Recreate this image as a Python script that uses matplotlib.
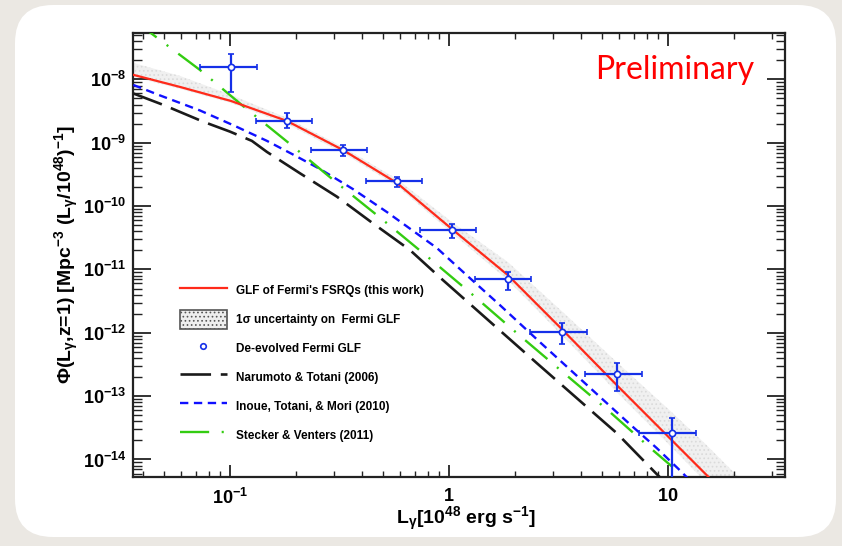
import matplotlib
matplotlib.use('Agg')
import matplotlib.pyplot as plt
import numpy as np
from matplotlib.patches import FancyBboxPatch, Patch
from matplotlib.lines import Line2D
from matplotlib.transforms import IdentityTransform
from matplotlib.ticker import LogLocator, NullFormatter, FixedLocator, FixedFormatter

plt.rcParams['font.family'] = ['Liberation Sans', 'DejaVu Sans']
plt.rcParams['mathtext.fontset'] = 'custom'
plt.rcParams['mathtext.rm'] = 'Liberation Sans:bold'
plt.rcParams['mathtext.it'] = 'Liberation Sans:italic:bold'
plt.rcParams['mathtext.bf'] = 'Liberation Sans:bold'
plt.rcParams['mathtext.sf'] = 'Liberation Sans:bold'
plt.rcParams['mathtext.default'] = 'rm'
plt.rcParams['lines.scale_dashes'] = False
plt.rcParams['hatch.color'] = '#dadada'
plt.rcParams['hatch.linewidth'] = 0.7

# ---------------- data ----------------
# de-evolved Fermi GLF points
pt_L = [0.101, 0.183, 0.327, 0.581, 1.034, 1.854, 3.30, 5.87, 10.46]
pt_L_lo = [0.0729, 0.1315, 0.2336, 0.417, 0.737, 1.314, 2.34, 4.18, 7.40]
pt_L_hi = [0.1324, 0.236, 0.4236, 0.750, 1.326, 2.36, 4.26, 7.59, 13.5]
pt_phi = [1.576e-8, 2.19e-9, 7.61e-10, 2.47e-10, 4.23e-11, 6.98e-12, 1.04e-12, 2.20e-13, 2.63e-14]
pt_phi_lo = [6.4e-9, 1.69e-9, 6.19e-10, 2.03e-10, 3.16e-11, 4.72e-12, 6.64e-13, 1.21e-13, 2.0e-15]
pt_phi_hi = [2.5e-8, 2.92e-9, 9.2e-10, 2.91e-10, 5.31e-11, 9.2e-12, 1.41e-12, 3.36e-13, 4.54e-14]

# GLF of Fermi's FSRQs (this work) and its 1-sigma band
glf_L = [0.0362, 0.0591, 0.101, 0.182, 0.328, 0.579, 1.032, 1.859, 3.316, 5.85, 10.42, 15.22, 22.47]
glf_phi = [1.18e-8, 7.61e-9, 4.57e-9, 2.21e-9, 7.70e-10, 2.32e-10, 4.35e-11, 8.15e-12,
           1.10e-12, 1.49e-13, 2.02e-14, 5.45e-15, 1.4e-15]
band_hi = [1.82e-8, 1.136e-8, 5.69e-9, 2.47e-9, 8.58e-10, 2.68e-10, 5.61e-11, 1.31e-11,
           2.12e-12, 3.44e-13, 5.58e-14, 1.62e-14, 4.2e-15]
band_lo = [1.095e-8, 7.08e-9, 4.25e-9, 1.98e-9, 6.90e-10, 2.08e-10, 3.76e-11, 6.79e-12,
           8.85e-13, 1.15e-13, 1.56e-14, 4.07e-15, 1.1e-15]

# Narumoto & Totani (2006)
nt_L = [0.0362, 0.0496, 0.0755, 0.1, 0.126, 0.1476, 0.2088, 0.308, 0.4498, 0.6637, 0.939, 2.522, 5.85, 9.0, 12.6]
nt_phi = [6.0e-9, 3.96e-9, 2.15e-9, 1.50e-9, 1.07e-9, 7.16e-10, 3.30e-10, 1.41e-10, 5.35e-11,
          2.03e-11, 6.80e-12, 3.32e-13, 2.60e-14, 5.65e-15, 1.97e-15]

# Inoue, Totani, & Mori (2010)
itm_L = [0.0362, 0.0479, 0.0729, 0.1054, 0.1476, 0.194, 0.2576, 0.3644, 0.5209, 0.8815,
         1.247, 1.71, 2.604, 3.684, 5.266, 6.708, 8.91, 11.34, 12.6]
itm_phi = [8.18e-9, 5.59e-9, 3.24e-9, 1.84e-9, 1.07e-9, 6.53e-10, 3.86e-10, 1.86e-10, 8.07e-11,
           2.18e-11, 7.31e-12, 2.74e-12, 7.13e-13, 2.39e-13, 7.75e-14, 3.61e-14, 1.51e-14, 6.78e-15, 4.7e-15]

# Stecker & Venters (2011)
sv_L = [0.0362, 0.0729, 0.1147, 0.188, 0.308, 0.494, 0.802, 1.274, 2.044, 3.316, 5.32, 8.45, 10.54]
sv_phi = [8.7e-8, 1.413e-8, 3.81e-9, 9.57e-10, 2.32e-10, 6.25e-11, 1.57e-11, 4.08e-12,
          9.89e-13, 2.39e-13, 6.01e-14, 1.45e-14, 7.55e-15]

x_ticks = [0.1, 1, 10]
x_ticklabels = ['$10^{-1}$', '$1$', '$10$']
y_ticks = [1e-14, 1e-13, 1e-12, 1e-11, 1e-10, 1e-9, 1e-8]
y_ticklabels = ['$10^{-14}$', '$10^{-13}$', '$10^{-12}$', '$10^{-11}$', '$10^{-10}$', '$10^{-9}$', '$10^{-8}$']

labels = ["GLF of Fermi's FSRQs (this work)", "1\u03c3 uncertainty on  Fermi GLF",
          "De-evolved Fermi GLF", "Narumoto & Totani (2006)",
          "Inoue, Totani, & Mori (2010)", "Stecker & Venters (2011)"]

# ---------------- figure ----------------
W, H = 842, 546
fig = plt.figure(figsize=(W / 100, H / 100), dpi=100)
fig.patch.set_facecolor('#ebe8e3')
r = 38
card = FancyBboxPatch((15 + r, 9 + r), 821 - 2 * r, 532 - 2 * r,
                      boxstyle='round,pad=%d' % r, transform=IdentityTransform(),
                      facecolor='white', edgecolor='none', zorder=-5)
fig.add_artist(card)

ax = fig.add_axes([133.3 / W, (H - 476.7) / H, (785 - 133.3) / W, (476.7 - 33) / H])
ax.set_xscale('log')
ax.set_yscale('log')
ax.set_xlim(0.0362, 34.3)
ax.set_ylim(5.35e-15, 5.4e-8)

band = ax.fill_between(glf_L, band_lo, band_hi, facecolor='#f0f0f0', edgecolor='#dadada',
                       linewidth=0, hatch='....', zorder=1)

l_nt, = ax.plot(nt_L, nt_phi, color='#1a1a1a', lw=1.9, dashes=(22, 7), dash_capstyle='butt', zorder=3)
l_itm, = ax.plot(itm_L, itm_phi, color='#1010ff', lw=1.7, dashes=(6, 4), dash_capstyle='butt', zorder=3)
l_sv, = ax.plot(sv_L, sv_phi, color='#33cc11', lw=1.7, dashes=(21, 9, 1.5, 9), dash_capstyle='butt', zorder=3)
l_glf, = ax.plot(glf_L, glf_phi, color='#ff2a1a', lw=1.6, zorder=4)

L = np.array(pt_L)
P = np.array(pt_phi)
xerr = [L - np.array(pt_L_lo), np.array(pt_L_hi) - L]
yerr = [P - np.array(pt_phi_lo), np.array(pt_phi_hi) - P]
ax.errorbar(L, P, xerr=xerr, yerr=yerr, fmt='o', color='#1530e8', ms=4.5, mfc='white',
            mec='#1530e8', mew=1.2, elinewidth=1.6, capsize=2.2, capthick=1.6, zorder=5)

# ticks
ax.xaxis.set_major_locator(FixedLocator(x_ticks))
ax.xaxis.set_major_formatter(FixedFormatter(x_ticklabels))
ax.xaxis.set_minor_locator(LogLocator(base=10, subs=np.arange(2, 10), numticks=100))
ax.xaxis.set_minor_formatter(NullFormatter())
ax.yaxis.set_major_locator(FixedLocator(y_ticks))
ax.yaxis.set_major_formatter(FixedFormatter(y_ticklabels))
ax.yaxis.set_minor_locator(LogLocator(base=10, subs=np.arange(2, 10), numticks=100))
ax.yaxis.set_minor_formatter(NullFormatter())
ax.tick_params(which='both', direction='in', top=True, right=True, color='#222222')
ax.tick_params(axis='y', which='major', length=13, width=1.3, pad=5, labelsize=13)
ax.tick_params(axis='y', which='minor', length=6.5, width=1.0)
ax.tick_params(axis='x', which='major', length=9, width=1.3, pad=8, labelsize=13)
ax.tick_params(axis='x', which='minor', length=4, width=1.0)
for s in ax.spines.values():
    s.set_linewidth(1.6)
    s.set_color('#222222')

ax.set_xlabel('L$_\\gamma$[10$^{48}$ erg s$^{-1}$]', fontsize=14, fontweight='bold', va='center')
ax.xaxis.set_label_coords(0.5105, -0.0953)
ax.set_ylabel('$\\Phi$(L$_\\gamma$,z=1) [Mpc$^{-3}$ (L$_\\gamma$/10$^{48}$)$^{-1}$]', fontsize=14,
              fontweight='bold', va='center')
ax.yaxis.set_label_coords(-0.1017, 0.4997)

ax.text(0.7085, 0.8957, 'Preliminary', transform=ax.transAxes, color='#ff0000',
        fontsize=23, family=['Lato', 'DejaVu Sans'], ha='left', va='baseline')

# legend
h_band = Patch(facecolor='#eeeeee', edgecolor='#555555', linewidth=1.2, hatch='....')
h_pts = Line2D([], [], ls='none', marker='o', ms=4, mfc='white', mec='#1530e8', mew=1.2)
leg = ax.legend([l_glf, h_band, h_pts, l_nt, l_itm, l_sv], labels,
                loc='upper left', bbox_to_anchor=(0.0717, 0.44), frameon=False,
                prop={'weight': 'bold', 'size': 8.5}, borderpad=0, borderaxespad=0,
                handlelength=3.95, handleheight=2.0, handletextpad=0.8, labelspacing=0.9, numpoints=1)

fig.savefig('out.png', dpi=100, facecolor=fig.get_facecolor())
